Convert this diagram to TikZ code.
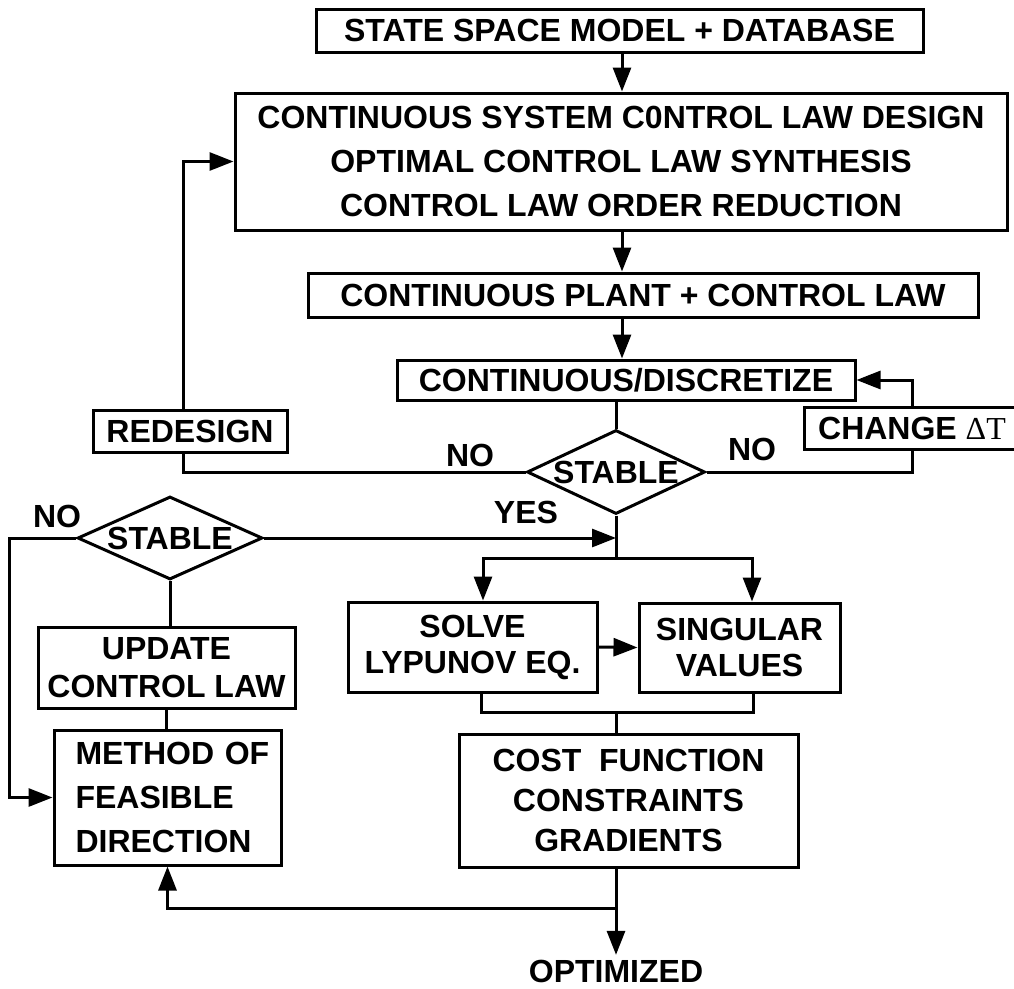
\documentclass[tikz,border=0pt]{standalone}
\usepackage{fontspec}
\setmainfont{Liberation Sans}
\newfontfamily\deltafont{Liberation Serif}
\usetikzlibrary{arrows.meta,shapes.geometric}

\begin{document}
\begin{tikzpicture}[x=1pt,y=-1pt,line width=3pt,
	blk/.style={draw,rectangle,inner sep=0pt,align=center,font=\bfseries\fontsize{32}{44}\selectfont},
	decide/.style={draw,diamond,inner sep=0pt,aspect=2.2,font=\bfseries\fontsize{32}{36}\selectfont},
	lbl/.style={font=\bfseries\fontsize{32}{36}\selectfont},
	arr/.style={-{Triangle[length=24pt,width=18pt]}}]
	\useasboundingbox (0,0) rectangle (1014,988);
	% main column
	\node[blk,minimum width=607pt,minimum height=43pt] (ssm) at (619.5,30.5) {STATE SPACE MODEL + DATABASE};
	\node[blk,minimum width=772pt,minimum height=137pt] (design) at (621,161.5)
		{CONTINUOUS SYSTEM C0NTROL LAW DESIGN\\OPTIMAL CONTROL LAW SYNTHESIS\\CONTROL LAW ORDER REDUCTION};
	\node[blk,minimum width=670pt,minimum height=44pt] (plant) at (643,295) {CONTINUOUS PLANT + CONTROL LAW};
	\node[blk,minimum width=458pt,minimum height=40pt] (disc) at (626,380) {CONTINUOUS/DISCRETIZE};
	\node[blk,minimum width=216pt,minimum height=42pt] (change) at (912,428) {CHANGE {\deltafont\mdseries ΔT}};
	\node[blk,minimum width=194pt,minimum height=42pt] (redesign) at (190,431) {REDESIGN};
	\node[decide,minimum width=178pt,minimum height=84pt] (stab1) at (616,472) {STABLE};
	\node[decide,minimum width=185pt,minimum height=83pt] (stab2) at (170,538) {STABLE};
	% lower boxes
	\node[blk,minimum width=249pt,minimum height=90pt,font=\bfseries\fontsize{32}{36}\selectfont] (solve) at (472.5,647) {SOLVE\\LYPUNOV EQ.};
	\node[blk,minimum width=201pt,minimum height=89pt,font=\bfseries\fontsize{32}{36}\selectfont] (sing) at (739.5,647.5) {SINGULAR\\VALUES};
	\node[blk,minimum width=339pt,minimum height=133pt,font=\bfseries\fontsize{32}{40}\selectfont] (cost) at (628.5,800.5)
		{COST\ \ FUNCTION\\CONSTRAINTS\\GRADIENTS};
	\node[blk,minimum width=257pt,minimum height=81pt,font=\bfseries\fontsize{32}{38}\selectfont] (update) at (166.5,667.5) {UPDATE\\CONTROL LAW};
	\node[blk,minimum width=227pt,minimum height=135pt,align=left,text width=184pt] (method) at (167.5,797.5)
		{\mbox{METHOD OF}\\FEASIBLE\\DIRECTION};
	\node[lbl] (opt) at (616,971) {OPTIMIZED};
	% branch labels
	\node[lbl] (no1) at (470,455) {NO};
	\node[lbl] (no2) at (752,449) {NO};
	\node[lbl] (yes) at (526,512) {YES};
	\node[lbl] (no3) at (57,516) {NO};
	% junctions
	\coordinate (col) at (622,0);
	\coordinate (trunk) at (616,0);
	\coordinate (split) at (616,558);
	\coordinate (join) at (616,712);
	\coordinate (fork) at (616,908);
	% connectors
	\draw[arr] (ssm.south -| col) -- (design.north -| col);
	\draw[arr] (design.south -| col) -- (plant.north -| col);
	\draw[arr] (plant.south -| col) -- (disc.north -| col);
	\draw (disc.south -| stab1.north) -- (stab1.north);
	\draw (stab1.east) -| (change.south);
	\draw[arr] (change.north) |- (disc.east);
	\draw (stab1.west) -| ([xshift=-7pt]redesign.south);
	\draw[arr] ([xshift=-7pt]redesign.north) |- (design.west);
	\draw (stab1.south) -- (split);
	\draw[arr] (split) -| ([xshift=10.5pt]solve.north);
	\draw[arr] (split) -| ([xshift=12.5pt]sing.north);
	\draw[arr] (stab2.east) -- (stab2.east -| trunk);
	\draw[arr] (solve.east) -- (sing.west);
	\draw ([xshift=8.5pt]solve.south) |- (join) -| ([xshift=13.5pt]sing.south);
	\draw (join) -- (cost.north -| join);
	\draw[arr] (cost.south -| fork) -- (opt.north);
	\draw[arr] (fork) -| (method.south);
	\draw (stab2.south) -- (update.north -| stab2.south);
	\draw (update.south) -- (method.north -| update.south);
	\draw[arr] (stab2.west) -- ++(-67,0) |- (method.west);
\end{tikzpicture}
\end{document}
